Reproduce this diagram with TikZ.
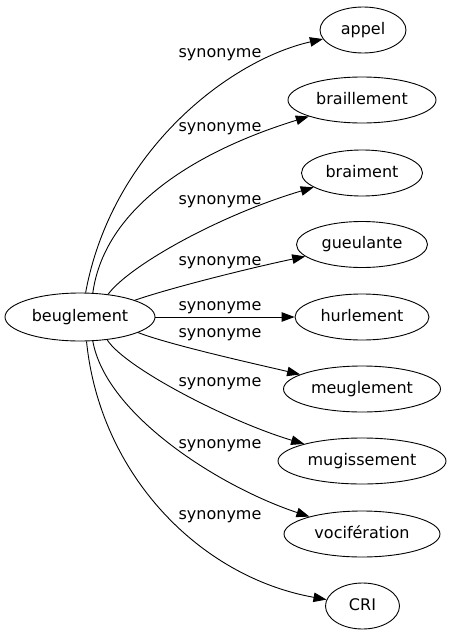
\documentclass[tikz,border=0pt]{standalone}
\usepackage{fontspec}
\setmainfont{DejaVu Sans}
\usetikzlibrary{shapes.geometric,arrows.meta}
\begin{document}
\begin{tikzpicture}[x=1pt,y=-1pt,
  every node/.style={font=\fontsize{16}{18}\selectfont},
  word/.style={draw, ellipse, inner sep=0pt, minimum height=46pt, text height=11.5pt, text depth=3.5pt, line width=0.9pt},
  rel/.style={anchor=base},
  link/.style={-{Triangle[length=13pt,width=9.5pt]}, line width=0.9pt}]
\useasboundingbox (0,0) rectangle (450,635);
\node[word, minimum width=150pt, minimum height=48pt] (b) at (80,317) {beuglement};
\node[word, minimum width=86pt]  (appel)  at (363,30)   {appel};
\node[word, minimum width=148pt] (braill) at (362,100)  {braillement};
\node[word, minimum width=121pt] (brai)   at (362,173)  {braiment};
\node[word, minimum width=131pt] (gueul)  at (362,244.5){gueulante};
\node[word, minimum width=134pt] (hurl)   at (362,317)  {hurlement};
\node[word, minimum width=157pt] (meug)   at (362,389)  {meuglement};
\node[word, minimum width=168pt] (mugi)   at (362,461)  {mugissement};
\node[word, minimum width=156pt] (voci)   at (362,534)  {vocifération};
\node[word, minimum width=74pt]  (cri)    at (362.5,606){CRI};

\draw[link] (b.77.7) .. controls (112,150) and (230,60) .. (appel);
\draw[link] (b.62.4) .. controls (105,205) and (200,150) .. (braill);
\draw[link] (b.39.2) .. controls (130,265) and (220,215) .. (brai);
\draw[link] (b.17.2) .. controls (170,288) and (250,268) .. (gueul);
\draw[link] (b) -- (hurl);
\draw[link] (b.-15.7) .. controls (170,345) and (260,365) .. (meug);
\draw[link] (b.-40.4) .. controls (125,368) and (230,422) .. (mugi);
\draw[link] (b.-62.4) .. controls (106,415) and (220,487) .. (voci);
\draw[link] (b.-75.4) .. controls (100,475) and (200,577) .. (cri);

\node[rel] (l1) at (220,57.3) {synonyme};
\node[rel] (l2) at (220,131.7) {synonyme};
\node[rel] (l3) at (220,204) {synonyme};
\node[rel] (l4) at (220,265) {synonyme};
\node[rel] (l5) at (220,310.7) {synonyme};
\node[rel] (l6) at (220,337) {synonyme};
\node[rel] (l7) at (220,386) {synonyme};
\node[rel] (l8) at (220,448) {synonyme};
\node[rel] (l9) at (220,519.3) {synonyme};
\end{tikzpicture}
\end{document}
